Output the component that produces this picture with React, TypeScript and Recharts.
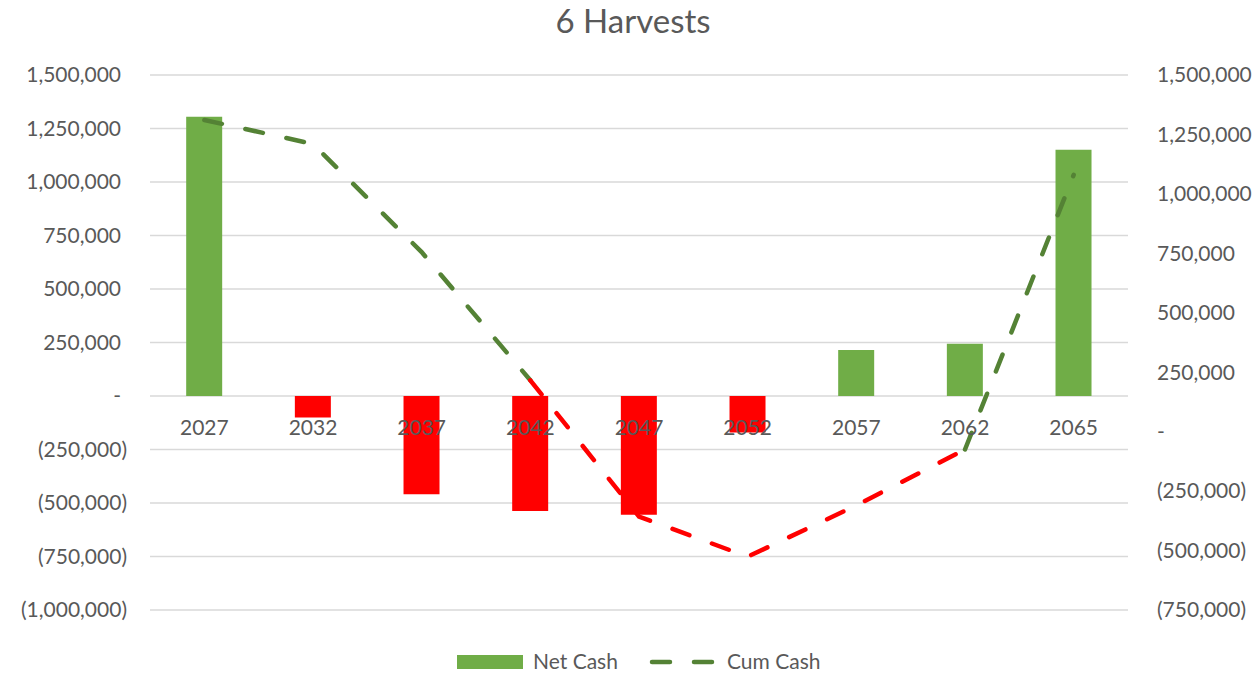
import React from 'react';
import { ComposedChart, Bar, Line, XAxis, YAxis, CartesianGrid, Cell } from 'recharts';

const years = ['2027', '2032', '2037', '2042', '2047', '2052', '2057', '2062', '2065'];
const netCash = [1305000, -101000, -459000, -537000, -555000, -171000, 215000, 244000, 1151000];
const cumCash = [1311000, 1210000, 755000, 216000, -357000, -526000, -310000, -75000, 1080000];

const leftTicks = [-1000000, -750000, -500000, -250000, 0, 250000, 500000, 750000, 1000000, 1250000, 1500000];
const rightTicks = [-750000, -500000, -250000, 0, 250000, 500000, 750000, 1000000, 1250000, 1500000];

const W = 1256;
const H = 674;
const TOP = 75;
const XAXIS_H = 64;
const LEFT_W = 150;
const RIGHT_W = 128;
const plotH = H - TOP - XAXIS_H;

const GREEN = '#70AD47';
const LINE_GREEN = '#548235';
const RED = '#FF0000';
const TEXT = '#595959';
const FONT = 'Lato, sans-serif';

// excel accounting style: 1,250,000 / (250,000) / -
const fmt = (v: number) =>
  v === 0 ? '-' : v < 0 ? `(${Math.abs(v).toLocaleString('en-US')})` : v.toLocaleString('en-US');

// a segment takes the colour of the point it ends at (red when cum is negative)
const segRed = cumCash.map((v, i) => i > 0 && v < 0);
const data = years.map((year, i) => {
  const redIn = segRed[i];
  const redOut = i + 1 < years.length && segRed[i + 1];
  const greenIn = i > 0 && !segRed[i];
  const greenOut = i + 1 < years.length && !segRed[i + 1];
  return {
    year,
    net: netCash[i],
    cumGreen: greenIn || greenOut ? cumCash[i] : null,
    cumRed: redIn || redOut ? cumCash[i] : null,
  };
});

const zeroY = TOP + plotH * (leftTicks[leftTicks.length - 1] / (leftTicks[leftTicks.length - 1] - leftTicks[0]));

const XTick = ({ x, payload }: any) => (
  <text x={x} y={zeroY + 32} dy="0.35em" textAnchor="middle" fill={TEXT} fontSize={21} fontFamily={FONT}>
    {payload.value}
  </text>
);

const LeftTick = ({ y, payload }: any) => (
  <text x={121 + (payload.value < 0 ? 6 : 0)} y={y} dy="0.35em" textAnchor="end" fill={TEXT} fontSize={21} fontFamily={FONT}>
    {fmt(payload.value)}
  </text>
);

const RightTick = ({ y, payload }: any) => (
  <text x={W - RIGHT_W + 29} y={y} dy="0.35em" textAnchor="start" fill={TEXT} fontSize={21} fontFamily={FONT}>
    {fmt(payload.value)}
  </text>
);

export default function App() {
  return (
    <div style={{ position: 'absolute', left: 0, top: 0, width: W, height: H, background: '#fff', fontFamily: FONT }}>
      <ComposedChart width={W} height={H} data={data} margin={{ top: TOP, right: 0, bottom: 0, left: 0 }} barCategoryGap="33.3%">
        <CartesianGrid vertical={false} stroke="#D9D9D9" strokeWidth={1.3} yAxisId="left" />
        <YAxis
          yAxisId="left"
          width={LEFT_W}
          domain={[leftTicks[0], leftTicks[leftTicks.length - 1]]}
          ticks={leftTicks}
          interval={0}
          axisLine={false}
          tickLine={false}
          tick={(p: any) => <LeftTick {...p} />}
        />
        <YAxis
          yAxisId="right"
          orientation="right"
          width={RIGHT_W}
          domain={[rightTicks[0], rightTicks[rightTicks.length - 1]]}
          ticks={rightTicks}
          interval={0}
          axisLine={false}
          tickLine={false}
          tick={(p: any) => <RightTick {...p} />}
        />
        <Bar yAxisId="left" dataKey="net" isAnimationActive={false}>
          {data.map((d, i) => (
            <Cell key={i} fill={d.net < 0 ? RED : GREEN} />
          ))}
        </Bar>
        <XAxis
          dataKey="year"
          height={XAXIS_H}
          interval={0}
          axisLine={false}
          tickLine={false}
          tick={(p: any) => <XTick {...p} />}
        />
        <Line
          yAxisId="right"
          dataKey="cumGreen"
          stroke={LINE_GREEN}
          strokeWidth={4.5}
          strokeDasharray="18 24"
          strokeLinecap="round"
          dot={false}
          activeDot={false}
          connectNulls={false}
          isAnimationActive={false}
        />
        <Line
          yAxisId="right"
          dataKey="cumRed"
          stroke={RED}
          strokeWidth={4.5}
          strokeDasharray="18 24"
          strokeLinecap="round"
          dot={false}
          activeDot={false}
          connectNulls={false}
          isAnimationActive={false}
        />
      </ComposedChart>
      <svg width={W} height={H} style={{ position: 'absolute', left: 0, top: 0, pointerEvents: 'none' }}>
        <text x={633} y={33} textAnchor="middle" fill={TEXT} fontSize={33} fontFamily={FONT}>
          6 Harvests
        </text>
        <rect x={457} y={655} width={66} height={14} fill={GREEN} />
        <text x={533} y={662} dy="0.35em" fill={TEXT} fontSize={21} fontFamily={FONT}>
          Net Cash
        </text>
        <line x1={652} y1={662} x2={713} y2={662} stroke={LINE_GREEN} strokeWidth={4.5} strokeDasharray="18 24" strokeLinecap="round" />
        <text x={727} y={662} dy="0.35em" fill={TEXT} fontSize={21} fontFamily={FONT}>
          Cum Cash
        </text>
      </svg>
    </div>
  );
}
